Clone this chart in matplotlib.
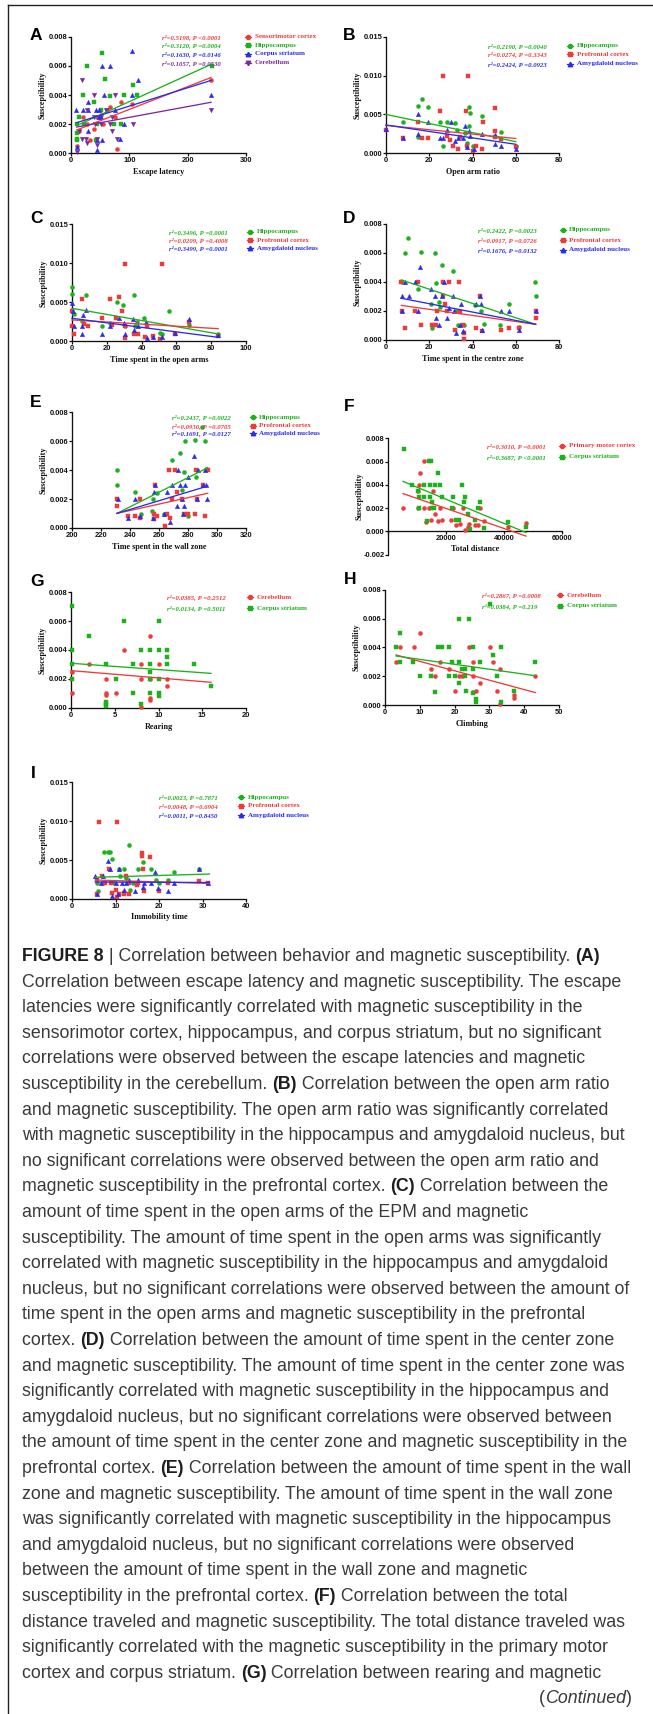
import re
import numpy as np
import matplotlib
matplotlib.use('Agg')
import matplotlib.pyplot as plt
from matplotlib.lines import Line2D
from matplotlib.font_manager import FontProperties

# ---------------- DATA ----------------
# Panel A: escape latency
A_sensorimotor_x = [11, 78, 85, 104, 240, 61, 44, 27, 39.5, 52, 14, 67, 32.6, 55.5, 75.6, 21]
A_sensorimotor_y = [0.0005, 0.00027, 0.0035, 0.0034, 0.005, 0.003, 0.0025, 0.002, 0.0017, 0.0026, 0.0015, 0.0032, 0.0009, 0.002, 0.0025, 0.0025]
A_hippocampus_x = [52.7, 28, 59, 67, 91.6, 107, 113, 241, 20, 39.5, 14, 11, 11, 52, 85, 73, 43, 44, 22, 11, 10]
A_hippocampus_y = [0.0069, 0.006, 0.0051, 0.0039, 0.004, 0.0047, 0.004, 0.006, 0.004, 0.0035, 0.0025, 0.0014, 0.001, 0.003, 0.002, 0.002, 0.0009, 0.002, 0.002, 0.002, 0.0009]
A_striatum_x = [53, 67, 105, 114, 8.6, 20, 29, 29, 29, 42, 47.5, 57, 75.6, 91.6, 84, 44, 44, 53, 240, 10, 51.5, 104, 48]
A_striatum_y = [0.006, 0.006, 0.007, 0.005, 0.003, 0.003, 0.003, 0.0015, 0.0035, 0.003, 0.003, 0.004, 0.003, 0.002, 0.001, 0.0002, 0.0009, 0.0009, 0.004, 0.0004, 0.0025, 0.004, 0.0025]
A_cerebellum_x = [19.5, 39.5, 75, 9.7, 14, 25.8, 28, 44, 44, 78, 70, 67, 52, 107, 240, 60, 40.6, 70, 39.5, 28, 19]
A_cerebellum_y = [0.005, 0.004, 0.004, 0.0001, 0.0015, 0.001, 0.0007, 0.001, 0.0006, 0.001, 0.0015, 0.002, 0.002, 0.002, 0.003, 0.003, 0.002, 0.0025, 0.0025, 0.003, 0.001]
A_fit_x = [9.7, 240.0]
A_fit_sensorimotor = [0.0016, 0.0052]
A_fit_hippocampus = [0.0019, 0.0061]
A_fit_striatum = [0.0021, 0.0050]
A_fit_cerebellum = [0.0018, 0.0035]
A_stats = ["r\u00b2=0.5198, P <0.0001", "r\u00b2=0.3120, P =0.0004", "r\u00b2=0.1630, P =0.0146", "r\u00b2=0.1057, P =0.0530"]

# Panel B: open arm ratio
B_hippocampus_x = [7.8, 14.6, 16.7, 19.2, 14.7, 25, 26.3, 28.4, 32, 38.5, 38.9, 38.5, 44.4, 37.6, 40.4, 53, 60, 32.7, 36.5]
B_hippocampus_y = [0.004, 0.0061, 0.007, 0.006, 0.0021, 0.004, 0.001, 0.004, 0.0039, 0.006, 0.0052, 0.0035, 0.0048, 0.0013, 0.001, 0.0027, 0.0009, 0.003, 0.0026]
B_prefrontal_x = [26.3, 38, 25, 37, 50.2, 14.6, 44.7, 7.8, 16.7, 19.2, 0.15, 29.6, 31.2, 33.5, 37.3, 40, 41.6, 44.4, 50.2, 50.2, 53, 60, 28.4, 34.2]
B_prefrontal_y = [0.01, 0.01, 0.0054, 0.0054, 0.0058, 0.004, 0.004, 0.002, 0.002, 0.002, 0.003, 0.0017, 0.001, 0.0006, 0.0009, 0.0003, 0.0009, 0.0006, 0.0021, 0.0029, 0.0019, 0.0008, 0.0022, 0.0021]
B_amygdala_x = [14.6, 14.6, 19.2, 7.8, 0.15, 25, 26.3, 28.4, 32, 33.5, 36.4, 38.5, 38.9, 44.4, 50.2, 50.2, 53, 60, 37.3, 40.7, 30.2, 35.8]
B_amygdala_y = [0.005, 0.0025, 0.004, 0.002, 0.0031, 0.002, 0.002, 0.003, 0.0016, 0.002, 0.0035, 0.0029, 0.0022, 0.0025, 0.0024, 0.0012, 0.001, 0.0006, 0.0008, 0.0006, 0.004, 0.002]
B_fit_x = [0.0, 60.0]
B_fit_hippocampus = [0.0050, 0.0015]
B_fit_prefrontal = [0.0036, 0.0019]
B_fit_amygdala = [0.00364, 0.00116]
B_stats = ["r\u00b2=0.2190, P =0.0040", "r\u00b2=0.0274, P =0.3343", "r\u00b2=0.2424, P =0.0923"]

# Panel C: time spent in the open arms
C_hippocampus_x = [0, 0, 1.3, 8.2, 25.8, 29.3, 35.4, 55.6, 41.5, 5.7, 17, 30.6, 36, 50.3, 51.6, 67.5, 84, 37.3, 22]
C_hippocampus_y = [0.007, 0.006, 0.0035, 0.0059, 0.0051, 0.0047, 0.0059, 0.0039, 0.003, 0.0026, 0.002, 0.002, 0.0019, 0.001, 0.0009, 0.0021, 0.0009, 0.0025, 0.0023]
C_prefrontal_x = [30.6, 51.6, 5.5, 21.6, 27.2, 29, 0, 0, 1, 6.7, 9, 17, 25.4, 23, 30.6, 35.8, 37.7, 42, 46.5, 50.3, 59.3, 67.5, 84, 30.4, 43]
C_prefrontal_y = [0.0099, 0.0099, 0.0054, 0.0054, 0.0057, 0.0039, 0.0039, 0.002, 0.0009, 0.0022, 0.002, 0.003, 0.003, 0.0021, 0.0004, 0.0009, 0.0009, 0.0006, 0.0007, 0.0003, 0.0009, 0.0025, 0.0007, 0.0019, 0.002]
C_amygdala_x = [0, 0.6, 1.3, 5.5, 6.3, 8.2, 17, 22, 27, 30.2, 35, 35.4, 37.7, 42.6, 43, 46.8, 51.6, 59.3, 67.5, 84, 30, 5.5]
C_amygdala_y = [0.0049, 0.0039, 0.002, 0.0009, 0.0034, 0.004, 0.0009, 0.002, 0.003, 0.0009, 0.0029, 0.0015, 0.002, 0.0025, 0.0004, 0.0006, 0.0006, 0.001, 0.0029, 0.0008, 0.0023, 0.002]
C_fit_x = [0.0, 84.0]
C_fit_hippocampus = [0.00423, 0.00094]
C_fit_prefrontal = [0.00274, 0.00162]
C_fit_amygdala = [0.00295, 0.00051]
C_stats = ["r\u00b2=0.3496, P =0.0001", "r\u00b2=0.0209, P =0.4008", "r\u00b2=0.3499, P =0.0001"]

# Panel D: time spent in the centre zone
D_hippocampus_x = [10.3, 8.8, 16, 22.8, 25.8, 31, 7.4, 14.8, 23, 20.9, 24.3, 25, 21.2, 33.2, 36.3, 41.2, 45.5, 52.9, 56.9, 61.5, 69, 69.2, 44, 32.6]
D_hippocampus_y = [0.007, 0.006, 0.00605, 0.006, 0.00516, 0.00474, 0.00397, 0.0035, 0.0039, 0.0025, 0.0026, 0.0023, 0.0008, 0.001, 0.001, 0.0024, 0.0011, 0.001, 0.0025, 0.0009, 0.004, 0.003, 0.002, 0.002]
D_prefrontal_x = [7.1, 7.4, 8.9, 14.6, 13.5, 16.2, 21.2, 23, 26.5, 29, 33.7, 26.2, 27.4, 28, 32, 34.2, 35.4, 36, 36.3, 41.5, 43.5, 44.3, 53, 57, 61.5, 69.2, 69.5, 23.7]
D_prefrontal_y = [0.004, 0.002, 0.0008, 0.004, 0.002, 0.001, 0.001, 0.001, 0.004, 0.004, 0.004, 0.003, 0.0025, 0.002, 0.0007, 0.0019, 0.001, 0.0001, 0.0005, 0.0008, 0.003, 0.0006, 0.0007, 0.0008, 0.0008, 0.002, 0.0015, 0.002]
D_amygdala_x = [7.4, 7.4, 8.6, 10.5, 13.5, 14.8, 15.8, 20.8, 22.8, 23, 24.3, 25.8, 27, 28, 29, 31, 31.4, 32.3, 34, 34.6, 35.7, 41.4, 43.4, 44, 44.3, 53, 56.9, 61.5, 69.2]
D_amygdala_y = [0.003, 0.002, 0.004, 0.003, 0.004, 0.002, 0.005, 0.0035, 0.003, 0.0015, 0.001, 0.003, 0.004, 0.0015, 0.0022, 0.003, 0.002, 0.0005, 0.001, 0.0025, 0.0006, 0.0025, 0.003, 0.0025, 0.0007, 0.002, 0.002, 0.0007, 0.002]
D_fit_x = [7.1, 69.2]
D_fit_hippocampus = [0.00413, 0.00108]
D_fit_prefrontal = [0.00238, 0.00108]
D_fit_amygdala = [0.00287, 0.00108]
D_stats = ["r\u00b2=0.2422, P =0.0023", "r\u00b2=0.0917, P =0.0726", "r\u00b2=0.1676, P =0.0132"]

# Panel E: time spent in the wall zone
E_hippocampus_x = [231, 231, 243.4, 247.6, 255.9, 258.6, 255.4, 263.2, 264.4, 269.2, 274.7, 277, 277.7, 284.6, 289.9, 291.5, 285.7, 276, 279.8, 292.6]
E_hippocampus_y = [0.004, 0.003, 0.0025, 0.001, 0.002, 0.0024, 0.0012, 0.001, 0.001, 0.0047, 0.0052, 0.0039, 0.006, 0.00606, 0.007, 0.006, 0.0035, 0.0026, 0.00085, 0.0041]
E_prefrontal_x = [231, 231, 238.4, 243.4, 247, 247, 256.3, 256.8, 258.6, 257, 264, 265.3, 267.5, 266.9, 271.3, 269, 272.4, 276, 277.5, 279.8, 284.8, 285.3, 286.2, 290, 291.7, 293.6]
E_prefrontal_y = [0.0015, 0.002, 0.00085, 0.0008, 0.0007, 0.002, 0.0006, 0.001, 0.0008, 0.003, 0.00014, 0.001, 0.0007, 0.004, 0.004, 0.002, 0.0025, 0.002, 0.001, 0.001, 0.001, 0.004, 0.002, 0.003, 0.0008, 0.004]
E_amygdala_x = [231.5, 238.4, 243.4, 247, 255.9, 256.8, 257, 263.7, 265.3, 267.5, 269.2, 272.4, 272.9, 274.3, 276, 276.5, 277, 277.7, 279.8, 284.4, 286.2, 287.1, 290, 291.7, 292.6, 293.1]
E_amygdala_y = [0.002, 0.0007, 0.002, 0.0008, 0.0007, 0.0025, 0.003, 0.001, 0.0025, 0.0004, 0.003, 0.0015, 0.004, 0.003, 0.002, 0.001, 0.0015, 0.003, 0.0035, 0.005, 0.002, 0.004, 0.003, 0.004, 0.003, 0.002]
E_fit_x = [231.0, 293.6]
E_fit_hippocampus = [0.00101, 0.00417]
E_fit_prefrontal = [0.00101, 0.0024]
E_fit_amygdala = [0.00101, 0.0029]
E_stats = ["r\u00b2=0.2437, P =0.0022", "r\u00b2=0.0930, P =0.0705", "r\u00b2=0.1691, P =0.0127"]

# Panel F: total distance
F_motor_x = [5172, 12414, 10920, 10690, 10460, 10345, 12414, 13218, 14943, 14138, 15517, 16207, 17241, 17816, 18621, 21724, 22414, 23333, 24713, 25861, 26437, 27586, 27931, 30000, 30920, 31724, 32989, 41379, 47586]
F_motor_y = [0.002, 0.00606, 0.005, 0.004, 0.0035, 0.002, 0.002, 0.00084, 0.00096, 0.002, 0.0035, 0.0015, 0.0009, 0.002, 0.001, 0.001, 0.002, 0.00055, 0.00067, 0.002, 0.00014, 0.00038, 0.00064, 0.00055, 0.00055, 0.002, 0.0009, 0.0004, 0.0007]
F_striatum_x = [5402, 8391, 10230, 10690, 10690, 12414, 12414, 13448, 14138, 14828, 14598, 14598, 15057, 15057, 15977, 16207, 17126, 17816, 18506, 21954, 22414, 23333, 24483, 25402, 26092, 26552, 27701, 28161, 30000, 31149, 31609, 33218, 41379, 47701]
F_striatum_y = [0.00704, 0.004, 0.0035, 0.003, 0.002, 0.004, 0.003, 0.0009, 0.00606, 0.00606, 0.004, 0.003, 0.0025, 0.002, 0.002, 0.004, 0.005, 0.004, 0.003, 0.002, 0.003, 0.00096, 0.00096, 0.004, 0.0025, 0.003, 0.0015, 0.00017, 0.00096, 0.002, 0.0025, 0.00026, 0.00078, 0.0004]
F_fit_x = [5172.0, 47586.0]
F_fit_motor = [0.00325, -0.0004]
F_fit_striatum = [0.0043, -0.0001]
F_stats = ["r\u00b2=0.3010, P =0.0001", "r\u00b2=0.3687, P <0.0001"]

# Panel G: rearing
G_cerebellum_x = [0.08, 0.08, 2.1, 4, 4, 4, 5.1, 6.07, 8.05, 8.05, 9, 9, 9, 10, 10.95, 10.95, 9, 8.05]
G_cerebellum_y = [0.001, 0.0025, 0.003, 0.002, 0.001, 0.0009, 0.001, 0.004, 0.003, 0.00007, 0.005, 0.00067, 0.00053, 0.003, 0.0015, 0.002, 0.002, 0.002]
G_striatum_x = [0.08, 0.08, 0.08, 0.08, 2.1, 4, 4, 4, 4, 5.1, 6.07, 7.06, 7.06, 8.05, 8.05, 9, 9, 9, 9, 9, 10, 10, 10, 10, 10, 11, 11, 11, 14, 16]
G_striatum_y = [0.00705, 0.004, 0.003, 0.002, 0.005, 0.003, 0.0004, 0.00025, 0.0001, 0.002, 0.006, 0.003, 0.001, 0.004, 0.00025, 0.004, 0.003, 0.0025, 0.002, 0.001, 0.006, 0.004, 0.002, 0.001, 0.0008, 0.004, 0.0035, 0.003, 0.003, 0.0015]
G_fit_x = [0.0, 16.0]
G_fit_cerebellum = [0.00257, 0.00176]
G_fit_striatum = [0.00308, 0.00238]
G_stats = ["r\u00b2=0.0385, P =0.2512", "r\u00b2=0.0134, P =0.5011"]

# Panel H: climbing
H_cerebellum_x = [3.2, 4.3, 8.3, 10.2, 13.1, 14.3, 15.8, 18.3, 20.2, 21.2, 22.1, 24.2, 25.2, 25.2, 25.4, 26.1, 27.3, 30.2, 31.1, 32.1, 33, 33, 37.1, 37.1, 43.2]
H_cerebellum_y = [0.003, 0.004, 0.004, 0.005, 0.0025, 0.002, 0.003, 0.0025, 0.001, 0.002, 0.002, 0.004, 0.003, 0.002, 0.0009, 0.00095, 0.0015, 0.004, 0.003, 0.001, 0.0025, 0.0001, 0.0007, 0.0005, 0.002]
H_striatum_x = [3.2, 4.3, 4.3, 8.1, 10.2, 13.1, 14.3, 15.3, 16.4, 18.3, 18.3, 19.3, 20.2, 21.2, 21.2, 21.2, 22.1, 22.9, 23.1, 23.3, 24.2, 25.2, 25.2, 25.4, 26.1, 26.1, 27.3, 30.2, 31.1, 32.1, 33.2, 33.2, 37.1, 43.2]
H_striatum_y = [0.004, 0.005, 0.003, 0.003, 0.002, 0.002, 0.0009, 0.004, 0.004, 0.004, 0.002, 0.003, 0.002, 0.006, 0.003, 0.0015, 0.0025, 0.0025, 0.002, 0.001, 0.006, 0.004, 0.0025, 0.0008, 0.0004, 0.0002, 0.003, 0.007, 0.0035, 0.002, 0.004, 0.0002, 0.001, 0.003]
H_fit_x = [3.2, 43.2]
H_fit_cerebellum = [0.00347, 0.00086]
H_fit_striatum = [0.0034, 0.00203]
H_stats = ["r\u00b2=0.2867, P =0.0008", "r\u00b2=0.0384, P =0.219"]

# Panel I: immobility time
I_hippocampus_x = [5.7, 5.9, 7.3, 8.2, 8.8, 9.2, 8.4, 10.8, 11.9, 13.2, 13.3, 11.1, 12.3, 15.2, 16.3, 18.2, 19.2, 20, 22.1, 23.4, 29.2, 7.1, 9.6, 14]
I_hippocampus_y = [0.002, 0.001, 0.006, 0.006, 0.006, 0.0051, 0.0039, 0.0039, 0.0039, 0.0069, 0.0012, 0.003, 0.0027, 0.0039, 0.0047, 0.0039, 0.0025, 0.002, 0.0025, 0.0035, 0.0039, 0.002, 0.002, 0.002]
I_prefrontal_x = [6.1, 10.3, 5.7, 5.7, 6.8, 7.6, 8.5, 9, 9.1, 10.2, 10.3, 10.8, 11.9, 12, 12.3, 13, 13, 14.9, 15.1, 16, 16.2, 16.3, 16.5, 18, 20, 22.1, 31.3, 29.2]
I_prefrontal_y = [0.0099, 0.0099, 0.0025, 0.0007, 0.003, 0.002, 0.0039, 0.002, 0.0008, 0.0011, 0.0003, 0.0006, 0.0008, 0.0006, 0.003, 0.002, 0.0006, 0.0018, 0.002, 0.0059, 0.0055, 0.0039, 0.001, 0.0054, 0.001, 0.002, 0.002, 0.0023]
I_amygdala_x = [5.4, 5.7, 6.7, 7.1, 8.2, 8.8, 9.1, 10, 10.8, 11.6, 11.9, 12.3, 13.1, 14.5, 15.1, 16.3, 16.5, 18.2, 19.1, 19.8, 22.1, 23.5, 29.2, 31.3, 10.6]
I_amygdala_y = [0.003, 0.0006, 0.002, 0.003, 0.0049, 0.0039, 0.0004, 0.002, 0.0039, 0.002, 0.0012, 0.002, 0.0025, 0.001, 0.0024, 0.0016, 0.002, 0.002, 0.0035, 0.0014, 0.001, 0.002, 0.0039, 0.002, 0.0006]
I_fit_x = [5.4, 31.6]
I_fit_hippocampus = [0.00279, 0.00321]
I_fit_prefrontal = [0.00244, 0.0020]
I_fit_amygdala = [0.00218, 0.00212]
I_stats = ["r\u00b2=0.0023, P =0.7871", "r\u00b2=0.0048, P =0.6904", "r\u00b2=0.0011, P =0.8450"]

CAPTION = [
    "**FIGURE 8** | Correlation between behavior and magnetic susceptibility. **(A)**",
    "Correlation between escape latency and magnetic susceptibility. The escape",
    "latencies were significantly correlated with magnetic susceptibility in the",
    "sensorimotor cortex, hippocampus, and corpus striatum, but no significant",
    "correlations were observed between the escape latencies and magnetic",
    "susceptibility in the cerebellum. **(B)** Correlation between the open arm ratio",
    "and magnetic susceptibility. The open arm ratio was significantly correlated",
    "with magnetic susceptibility in the hippocampus and amygdaloid nucleus, but",
    "no significant correlations were observed between the open arm ratio and",
    "magnetic susceptibility in the prefrontal cortex. **(C)** Correlation between the",
    "amount of time spent in the open arms of the EPM and magnetic",
    "susceptibility. The amount of time spent in the open arms was significantly",
    "correlated with magnetic susceptibility in the hippocampus and amygdaloid",
    "nucleus, but no significant correlations were observed between the amount of",
    "time spent in the open arms and magnetic susceptibility in the prefrontal",
    "cortex. **(D)** Correlation between the amount of time spent in the center zone",
    "and magnetic susceptibility. The amount of time spent in the center zone was",
    "significantly correlated with magnetic susceptibility in the hippocampus and",
    "amygdaloid nucleus, but no significant correlations were observed between",
    "the amount of time spent in the center zone and magnetic susceptibility in the",
    "prefrontal cortex. **(E)** Correlation between the amount of time spent in the wall",
    "zone and magnetic susceptibility. The amount of time spent in the wall zone",
    "was significantly correlated with magnetic susceptibility in the hippocampus",
    "and amygdaloid nucleus, but no significant correlations were observed",
    "between the amount of time spent in the wall zone and magnetic",
    "susceptibility in the prefrontal cortex. **(F)** Correlation between the total",
    "distance traveled and magnetic susceptibility. The total distance traveled was",
    "significantly correlated with the magnetic susceptibility in the primary motor",
    "cortex and corpus striatum. **(G)** Correlation between rearing and magnetic",
]
CAPTION_END = "(__Continued__)"

# ---------------- STYLE ----------------
W, H = 653, 1714
DPI = 100
RED = '#F03A3A'
GREEN = '#1BB21B'
BLUE = '#2B2BF0'
PURPLE = '#7B2A9E'
SANS = 'Liberation Sans'
SERIF = 'Liberation Serif'
CAP_FONT = 'Liberation Sans'
MS = {'o': 2.9, 's': 2.8, '^': 3.2, 'v': 3.2}

fig = plt.figure(figsize=(W / DPI, H / DPI), dpi=DPI)
fig.patch.set_facecolor('white')


def fx(x):
    return x / W


def fy(y):
    return 1 - y / H


def panel(box, letter, letter_pos, xlim, xticks, xticklabels, ylim, yticks, yfmt,
          xlabel, xlabel_y, series, stats, stats_x, leg_mx, leg_tx, rows, zero_axis=False):
    l, t, r, b = box
    ax = fig.add_axes([fx(l), fy(b), (r - l) / W, (b - t) / H])
    ax.patch.set_alpha(0)
    for (label, color, marker, xs, ys, fxv, fyv) in series:
        ax.plot(xs, ys, ls='none', marker=marker, ms=MS[marker], color=color,
                mec=color, mew=0.3, clip_on=False, zorder=3)
    for (label, color, marker, xs, ys, fxv, fyv) in series:
        ax.plot(fxv, fyv, color=color, lw=0.95, clip_on=False, zorder=4)
    ax.set_xlim(*xlim)
    ax.set_ylim(*ylim)
    ax.set_xticks(xticks)
    ax.set_xticklabels(xticklabels)
    ax.set_yticks(yticks)
    ax.set_yticklabels([yfmt.format(v) for v in yticks])
    for s in ['top', 'right']:
        ax.spines[s].set_visible(False)
    for s in ['left', 'bottom']:
        ax.spines[s].set_linewidth(0.95)
        ax.spines[s].set_color('#111111')
    if zero_axis:
        ax.spines['bottom'].set_position(('data', 0))
    ax.tick_params(axis='both', direction='out', length=1.9, width=0.9, colors='#111111')
    ax.tick_params(axis='x', pad=1.0)
    ax.tick_params(axis='y', pad=0.6)
    for lab in ax.get_xticklabels() + ax.get_yticklabels():
        lab.set_fontfamily(SANS)
        lab.set_fontweight('bold')
        lab.set_fontsize(5.4)
        lab.set_color('#111111')
    # axis labels
    fig.text(fx(l - 28), fy((t + b) / 2), 'Susceptibility', rotation=90, ha='center',
             va='center', fontfamily=SERIF, fontweight='bold', fontsize=5.9, color='#111111')
    fig.text(fx((l + r) / 2), fy(xlabel_y), xlabel, ha='center', va='center',
             fontfamily=SERIF, fontweight='bold', fontsize=5.9, color='#111111')
    # panel letter
    fig.text(fx(letter_pos[0]), fy(letter_pos[1]), letter, ha='left', va='baseline',
             fontfamily=SANS, fontweight='bold', fontsize=12.5, color='black')
    # stats + legend
    for (s, row, stat) in zip(series, rows, stats):
        label, color, marker = s[0], s[1], s[2]
        fig.text(fx(stats_x), fy(row), stat, ha='left', va='center', fontfamily=SERIF,
                 fontweight='bold', fontstyle='italic', fontsize=4.9, color=color)
        fig.add_artist(Line2D([fx(leg_mx - 3.2), fx(leg_mx + 3.2)], [fy(row), fy(row)],
                              transform=fig.transFigure, color=color, lw=0.9))
        fig.add_artist(Line2D([fx(leg_mx)], [fy(row)], transform=fig.transFigure,
                              ls='none', marker=marker, ms=MS[marker], color=color))
        fig.text(fx(leg_tx), fy(row), label, ha='left', va='center', fontfamily=SERIF,
                 fontweight='bold', fontsize=5.0, color=color)
    return ax


y8 = [0, 0.002, 0.004, 0.006, 0.008]
y15 = [0, 0.005, 0.010, 0.015]

panel((71, 36.7, 246, 153.3), 'A', (30.0, 39.5), (0, 300), [0, 100, 200, 300], ['0', '100', '200', '300'],
      (0, 0.008), y8, '{:.3f}', 'Escape latency', 172,
      [('Sensorimotor cortex', RED, 'o', A_sensorimotor_x, A_sensorimotor_y, A_fit_x, A_fit_sensorimotor),
       ('Hippocampus', GREEN, 's', A_hippocampus_x, A_hippocampus_y, A_fit_x, A_fit_hippocampus),
       ('Corpus striatum', BLUE, '^', A_striatum_x, A_striatum_y, A_fit_x, A_fit_striatum),
       ('Cerebellum', PURPLE, 'v', A_cerebellum_x, A_cerebellum_y, A_fit_x, A_fit_cerebellum)],
      A_stats, 162, 248, 255, [36.7, 45.3, 54.0, 62.7])

panel((386, 36.7, 559, 153.3), 'B', (343.0, 40.0), (0, 80), [0, 20, 40, 60, 80], ['0', '20', '40', '60', '80'],
      (0, 0.015), y15, '{:.3f}', 'Open arm ratio', 172.5,
      [('Hippocampus', GREEN, 'o', B_hippocampus_x, B_hippocampus_y, B_fit_x, B_fit_hippocampus),
       ('Profrontal cortex', RED, 's', B_prefrontal_x, B_prefrontal_y, B_fit_x, B_fit_prefrontal),
       ('Amygdaloid nucleus', BLUE, '^', B_amygdala_x, B_amygdala_y, B_fit_x, B_fit_amygdala)],
      B_stats, 488, 570, 577, [45.7, 54.3, 64.0])

panel((72, 224.3, 246, 341.3), 'C', (30.5, 222.5), (0, 100), [0, 20, 40, 60, 80, 100], ['0', '20', '40', '60', '80', '100'],
      (0, 0.015), y15, '{:.3f}', 'Time spent in the open arms', 359.5,
      [('Hippocampus', GREEN, 'o', C_hippocampus_x, C_hippocampus_y, C_fit_x, C_fit_hippocampus),
       ('Profrontal cortex', RED, 's', C_prefrontal_x, C_prefrontal_y, C_fit_x, C_fit_prefrontal),
       ('Amygdaloid nucleus', BLUE, '^', C_amygdala_x, C_amygdala_y, C_fit_x, C_fit_amygdala)],
      C_stats, 169, 250, 257, [231.7, 240.0, 248.3])

panel((386, 223.7, 559, 340), 'D', (343.0, 222.5), (0, 80), [0, 20, 40, 60, 80], ['0', '20', '40', '60', '80'],
      (0, 0.008), y8, '{:.3f}', 'Time spent in the centre zone', 359,
      [('Hippocampus', GREEN, 'o', D_hippocampus_x, D_hippocampus_y, D_fit_x, D_fit_hippocampus),
       ('Profrontal cortex', RED, 's', D_prefrontal_x, D_prefrontal_y, D_fit_x, D_fit_prefrontal),
       ('Amygdaloid nucleus', BLUE, '^', D_amygdala_x, D_amygdala_y, D_fit_x, D_fit_amygdala)],
      D_stats, 478, 563, 569, [230.0, 240.0, 250.0])

panel((72, 412.3, 246, 528), 'E', (29.5, 407), (200, 320), [200, 220, 240, 260, 280, 300, 320],
      ['200', '220', '240', '260', '280', '300', '320'],
      (0, 0.008), y8, '{:.3f}', 'Time spent in the wall zone', 547.3,
      [('Hippocampus', GREEN, 'o', E_hippocampus_x, E_hippocampus_y, E_fit_x, E_fit_hippocampus),
       ('Profrontal cortex', RED, 's', E_prefrontal_x, E_prefrontal_y, E_fit_x, E_fit_prefrontal),
       ('Amygdaloid nucleus', BLUE, '^', E_amygdala_x, E_amygdala_y, E_fit_x, E_fit_amygdala)],
      E_stats, 172, 253, 259, [417.3, 425.7, 433.3])

panel((388, 438.3, 562, 554.7), 'F', (344.0, 411), (0, 60000), [0, 20000, 40000, 60000], ['', '20000', '40000', '60000'],
      (-0.002, 0.008), [-0.002, 0, 0.002, 0.004, 0.006, 0.008], '{:.3f}', 'Total distance', 549.3,
      [('Primary motor cortex', RED, 'o', F_motor_x, F_motor_y, F_fit_x, F_fit_motor),
       ('Corpus striatum', GREEN, 's', F_striatum_x, F_striatum_y, F_fit_x, F_fit_striatum)],
      F_stats, 487, 562, 569, [446.0, 456.7], zero_axis=True)

panel((71, 592.3, 246, 707.7), 'G', (30.0, 586), (0, 20), [0, 5, 10, 15, 20], ['0', '5', '10', '15', '20'],
      (0, 0.008), y8, '{:.3f}', 'Rearing', 726.7,
      [('Cerebellum', RED, 'o', G_cerebellum_x, G_cerebellum_y, G_fit_x, G_fit_cerebellum),
       ('Corpus striatum', GREEN, 's', G_striatum_x, G_striatum_y, G_fit_x, G_fit_striatum)],
      G_stats, 167, 250, 257, [597.3, 608.3])

panel((385, 589.7, 559, 705), 'H', (343.5, 584), (0, 50), [0, 10, 20, 30, 40, 50], ['0', '10', '20', '30', '40', '50'],
      (0, 0.008), y8, '{:.3f}', 'Climbing', 723.5,
      [('Cerebellum', RED, 'o', H_cerebellum_x, H_cerebellum_y, H_fit_x, H_fit_cerebellum),
       ('Corpus striatum', GREEN, 's', H_striatum_x, H_striatum_y, H_fit_x, H_fit_striatum)],
      H_stats, 482, 560, 567, [595.3, 606.0])

panel((72, 782.3, 246, 899), 'I', (30.5, 778), (0, 40), [0, 10, 20, 30, 40], ['0', '10', '20', '30', '40'],
      (0, 0.015), y15, '{:.3f}', 'Immobility time', 917,
      [('Hippocampus', GREEN, 'o', I_hippocampus_x, I_hippocampus_y, I_fit_x, I_fit_hippocampus),
       ('Profrontal cortex', RED, 's', I_prefrontal_x, I_prefrontal_y, I_fit_x, I_fit_prefrontal),
       ('Amygdaloid nucleus', BLUE, '^', I_amygdala_x, I_amygdala_y, I_fit_x, I_fit_amygdala)],
      I_stats, 159, 241, 248, [797.3, 806.0, 815.0])

# frame lines
fig.add_artist(Line2D([fx(7.5), fx(653)], [fy(5), fy(5)], transform=fig.transFigure, color='#222222', lw=1.0))
fig.add_artist(Line2D([fx(7.5), fx(7.5)], [fy(5), fy(1714)], transform=fig.transFigure, color='#222222', lw=1.0))

# ---------------- CAPTION ----------------
renderer = fig.canvas.get_renderer()
CAP_COLOR = '#3a3a3a'


def parse(line):
    segs = []
    for p in re.split(r'(\*\*.*?\*\*|__.*?__)', line):
        if not p:
            continue
        if p.startswith('**'):
            segs.append((p[2:-2], 'bold', 'normal'))
        elif p.startswith('__'):
            segs.append((p[2:-2], 'normal', 'italic'))
        else:
            segs.append((p, 'normal', 'normal'))
    return segs


def props(weight, style, size):
    return FontProperties(family=CAP_FONT, weight=weight, style=style, size=size)


def adv(text, weight, style, size):
    prop = props(weight, style, size)
    w1, _, _ = renderer.get_text_width_height_descent(text + '|', prop, ismath=False)
    w0, _, _ = renderer.get_text_width_height_descent('|', prop, ismath=False)
    return w1 - w0


def line_width(line, size):
    return sum(adv(s, w, st, size) for s, w, st in parse(line))


test = 10.0
maxw = max(line_width(l, test) for l in CAPTION)
cap_size = test * 611.0 / maxw


def draw_line(x, y, line, size):
    for s, w, st in parse(line):
        col = '#1e1e1e' if w == 'bold' else CAP_COLOR
        fig.text(fx(x), fy(y), s, ha='left', va='baseline', fontproperties=props(w, st, size),
                 color=col)
        x += adv(s, w, st, size)


base0 = 961.0
step = 25.6
for i, line in enumerate(CAPTION):
    draw_line(22.0, base0 + i * step, line, cap_size)
endw = line_width(CAPTION_END, cap_size)
draw_line(632.0 - endw, base0 + len(CAPTION) * step, CAPTION_END, cap_size)

fig.savefig('out.png', dpi=DPI, facecolor='white')
